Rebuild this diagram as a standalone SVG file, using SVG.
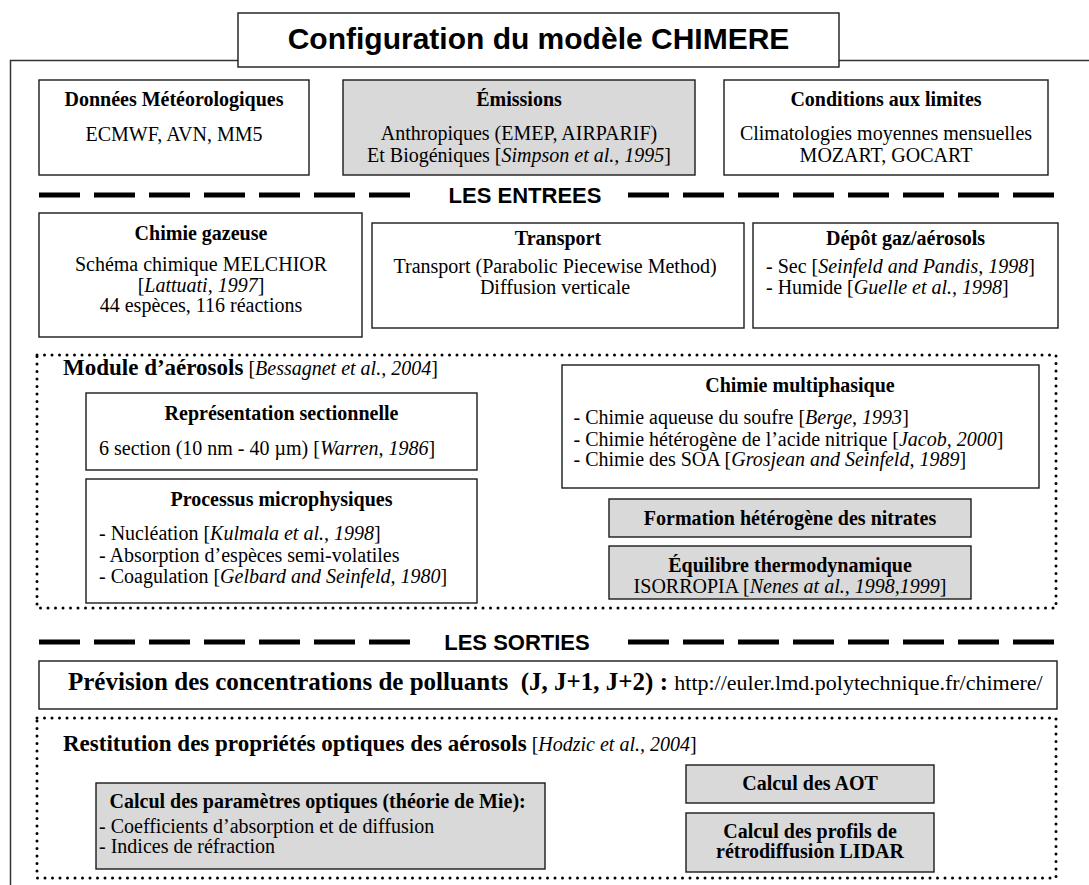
<svg xmlns="http://www.w3.org/2000/svg" width="1089" height="885" viewBox="0 0 1089 885">
<style>
.box{fill:#fff;stroke:#1a1a1a;stroke-width:1.4}
.gbox{fill:#d9d9d9;stroke:#1a1a1a;stroke-width:1.4}
.dot{fill:none;stroke:#000;stroke-width:3;stroke-dasharray:0 7.5;stroke-linecap:round}
.dash{stroke:#000;stroke-width:5;stroke-dasharray:41 14}
.frame{fill:none;stroke:#333;stroke-width:1.5}
.t{font-family:"Liberation Serif","Times New Roman",serif;font-size:20px;fill:#000}
.b{font-weight:bold}
.c{text-anchor:middle}
.i{font-style:italic}
.big{font-size:23px}
.h{font-family:"Liberation Sans",Arial,sans-serif;font-weight:bold;fill:#000}
</style>
<rect width="1089" height="885" fill="#fff"/>
<g id="frame">
<path class="frame" d="M10.5 885 V60.5 H238 M839 60.5 H1089"/>
</g>
<g id="title">
<rect class="box" x="238" y="13" width="601" height="54"/>
<text class="h c" x="538.5" y="49" font-size="30">Configuration du modèle CHIMERE</text>
</g>
<g id="meteo">
<rect class="box" x="39" y="80" width="270" height="95"/>
<text class="t b c" x="174" y="106">Données Météorologiques</text>
<text class="t c" x="174" y="141">ECMWF, AVN, MM5</text>
</g>
<g id="emissions">
<rect class="gbox" x="343" y="80" width="352" height="95"/>
<text class="t b c" x="519" y="106">Émissions</text>
<text class="t c" x="519" y="140">Anthropiques (EMEP, AIRPARIF)</text>
<text class="t c" x="519" y="162">Et Biogéniques [<tspan class="i">Simpson et al., 1995</tspan>]</text>
</g>
<g id="limites">
<rect class="box" x="724" y="80" width="324" height="95"/>
<text class="t b c" x="886" y="106">Conditions aux limites</text>
<text class="t c" x="886" y="140">Climatologies moyennes mensuelles</text>
<text class="t c" x="886" y="162">MOZART, GOCART</text>
</g>
<g id="separators">
<line class="dash" x1="39" y1="195" x2="410" y2="195"/>
<line class="dash" x1="628" y1="195" x2="1054" y2="195"/>
<line class="dash" x1="39" y1="642" x2="410" y2="642"/>
<line class="dash" x1="628" y1="642" x2="1054" y2="642"/>
</g>
<g id="entrees">
<text class="h c" x="525" y="203" font-size="22">LES ENTREES</text>
</g>
<g id="gazeuse">
<rect class="box" x="39" y="213" width="323" height="124"/>
<text class="t b c" x="201" y="240">Chimie gazeuse</text>
<text class="t c" x="201" y="271">Schéma chimique MELCHIOR</text>
<text class="t c" x="201" y="291.5">[<tspan class="i">Lattuati, 1997</tspan>]</text>
<text class="t c" x="201" y="312">44 espèces, 116 réactions</text>
</g>
<g id="transport">
<rect class="box" x="372" y="223" width="372" height="105"/>
<text class="t b c" x="558" y="245">Transport</text>
<text class="t c" x="555" y="273">Transport (Parabolic Piecewise Method)</text>
<text class="t c" x="555" y="294">Diffusion verticale</text>
</g>
<g id="depot">
<rect class="box" x="753" y="223" width="305" height="105"/>
<text class="t b c" x="905.5" y="245">Dépôt gaz/aérosols</text>
<text class="t" x="766" y="273">- Sec [<tspan class="i">Seinfeld and Pandis, 1998</tspan>]</text>
<text class="t" x="766" y="294">- Humide [<tspan class="i">Guelle et al., 1998</tspan>]</text>
</g>
<g id="module">
<rect class="dot" x="37" y="355" width="1019" height="253"/>
<text class="t" x="63" y="375"><tspan class="b big">Module d’aérosols</tspan> [<tspan class="i">Bessagnet et al., 2004</tspan>]</text>
</g>
<g id="sectionnelle">
<rect class="box" x="86" y="393" width="391" height="77"/>
<text class="t b c" x="281.5" y="420">Représentation sectionnelle</text>
<text class="t" x="99" y="455">6 section (10 nm - 40 µm) [<tspan class="i">Warren, 1986</tspan>]</text>
</g>
<g id="microphysique">
<rect class="box" x="86" y="479" width="391" height="124"/>
<text class="t b c" x="281.5" y="506">Processus microphysiques</text>
<text class="t" x="99" y="540">- Nucléation [<tspan class="i">Kulmala et al., 1998</tspan>]</text>
<text class="t" x="99" y="562">- Absorption d’espèces semi-volatiles</text>
<text class="t" x="99" y="583">- Coagulation [<tspan class="i">Gelbard and Seinfeld, 1980</tspan>]</text>
</g>
<g id="multiphasique">
<rect class="box" x="562" y="365" width="477" height="123"/>
<text class="t b c" x="800" y="392">Chimie multiphasique</text>
<text class="t" x="573.5" y="424">- Chimie aqueuse du soufre [<tspan class="i">Berge, 1993</tspan>]</text>
<text class="t" x="573.5" y="446">- Chimie hétérogène de l’acide nitrique [<tspan class="i">Jacob, 2000</tspan>]</text>
<text class="t" x="573.5" y="466">- Chimie des SOA [<tspan class="i">Grosjean and Seinfeld, 1989</tspan>]</text>
</g>
<g id="nitrates">
<rect class="gbox" x="609" y="499" width="362" height="38"/>
<text class="t b c" x="790" y="525">Formation hétérogène des nitrates</text>
</g>
<g id="equilibre">
<rect class="gbox" x="609" y="546" width="362" height="53"/>
<text class="t b c" x="790" y="572">Équilibre thermodynamique</text>
<text class="t c" x="790" y="593">ISORROPIA [<tspan class="i">Nenes at al., 1998,1999</tspan>]</text>
</g>
<g id="sorties">
<text class="h c" x="517" y="650" font-size="22">LES SORTIES</text>
</g>
<g id="prevision">
<rect class="box" x="39" y="661" width="1018" height="48"/>
<text class="t" x="68" y="690"><tspan class="b" font-size="25">Prévision des concentrations de polluants &#160;(J, J+1, J+2) : </tspan><tspan font-size="22">http://euler.lmd.polytechnique.fr/chimere/</tspan></text>
</g>
<g id="restitution">
<rect class="dot" x="37" y="718" width="1019" height="160"/>
<text class="t" x="63" y="751"><tspan class="b big">Restitution des propriétés optiques des aérosols</tspan> [<tspan class="i">Hodzic et al., 2004</tspan>]</text>
</g>
<g id="mie">
<rect class="gbox" x="96" y="783" width="449" height="86"/>
<text class="t b" x="109.5" y="808">Calcul des paramètres optiques (théorie de Mie):</text>
<text class="t" x="99" y="833">- Coefficients d’absorption et de diffusion</text>
<text class="t" x="99" y="853">- Indices de réfraction</text>
</g>
<g id="aot">
<rect class="gbox" x="686" y="765" width="248" height="38"/>
<text class="t b c" x="810" y="790">Calcul des AOT</text>
</g>
<g id="lidar">
<rect class="gbox" x="686" y="813" width="248" height="59"/>
<text class="t b c" x="810" y="838">Calcul des profils de</text>
<text class="t b c" x="810" y="858">rétrodiffusion LIDAR</text>
</g>
</svg>
